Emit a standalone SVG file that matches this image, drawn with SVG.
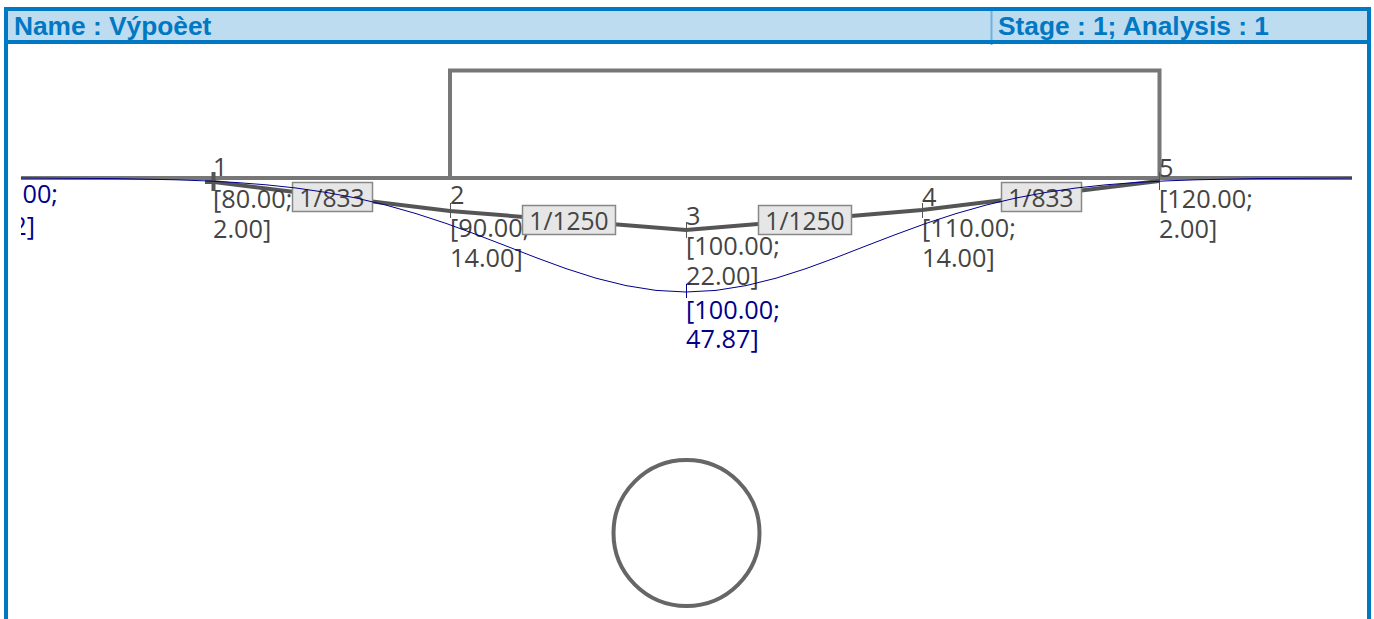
<svg xmlns="http://www.w3.org/2000/svg" width="1374" height="619" viewBox="0 0 1374 619">
<style>
.h{font:bold 26.300px "Liberation Sans",Arial,sans-serif;fill:#0078c4}
.t{font:25.300px "Open Sans","DejaVu Sans",sans-serif;fill:#444}
.b{font:25.300px "Open Sans","DejaVu Sans",sans-serif;fill:#00008b}
.l{font:24.600px "Open Sans","DejaVu Sans",sans-serif;fill:#444;text-anchor:middle}
.g{fill:none;stroke:#777;stroke-width:4}
.box{fill:#e6e6e6;stroke:#888;stroke-width:1.5}
.tick{stroke:#555;stroke-width:1;fill:none}
</style>
<defs><clipPath id="c"><rect x="21" y="44" width="1331" height="575"/></clipPath></defs>
<rect width="1374" height="619" fill="#fff"/>
<g id="header">
<rect x="6" y="9" width="1363" height="33" fill="#bddcf0"/>
<path d="M991.5 9V45" stroke="#6fb2de" stroke-width="2" fill="none"/>
<path d="M6 619V9H1369V619M6 42H1369" fill="none" stroke="#0078c4" stroke-width="4"/>
<text class="h" x="14" y="35">Name : Výpoèet</text>
<text class="h" x="998" y="35">Stage : 1; Analysis : 1</text>
</g>
<g id="structure">
<path class="g" d="M21 178H1352M450 178V70.500H1159.500V178"/>
<circle cx="686.500" cy="533" r="73" fill="none" stroke="#666" stroke-width="4"/>
</g>
<g id="connectors">
<path d="M205 182L214 182L450 211L686 230L922 210L1159 181" fill="none" stroke="#555" stroke-width="4"/>
<path d="M213.500 172V191" stroke="#555" stroke-width="4"/>
<path class="tick" d="M450.500 203V218M686.500 222V238M922.500 203V218M1159.500 172V190"/>
</g>
<g id="node-1"><text class="t" x="213" y="176">1<tspan x="213" y="208">[80.00;</tspan><tspan x="213" y="238">2.00]</tspan></text></g>
<g id="node-2"><text class="t" x="450" y="204">2<tspan x="450" y="237">[90.00;</tspan><tspan x="450" y="267">14.00]</tspan></text></g>
<g id="node-3"><text class="t" x="686" y="225">3<tspan x="686" y="255">[100.00;</tspan><tspan x="686" y="285">22.00]</tspan></text></g>
<g id="node-4"><text class="t" x="922" y="206">4<tspan x="922" y="237">[110.00;</tspan><tspan x="922" y="267">14.00]</tspan></text></g>
<g id="node-5"><text class="t" x="1159" y="177">5<tspan x="1159" y="208">[120.00;</tspan><tspan x="1159" y="238">2.00]</tspan></text></g>
<g id="label-1"><rect class="box" x="292.500" y="182.500" width="80" height="29"/><text class="l" x="332" y="207">1/833</text></g>
<g id="label-2"><rect class="box" x="522.500" y="205.500" width="93" height="29"/><text class="l" x="569" y="230">1/1250</text></g>
<g id="label-3"><rect class="box" x="758.500" y="205.500" width="93" height="29"/><text class="l" x="805" y="230">1/1250</text></g>
<g id="label-4"><rect class="box" x="1001.500" y="182.500" width="80" height="29"/><text class="l" x="1041" y="207">1/833</text></g>
<g id="deflection">
<path d="M21 178L116 178.600L176 179.800L206 180.900L236 182.500L266 184.800L296 188L326 192.400L356 198L386 205.100L416 213.600L446 223.400L476 234.400L506 245.900L536 257.600L566 268.600L596 278.200L626 285.600L656 290.400L686 292L716 290.400L746 285.600L776 278.200L806 268.600L836 257.600L866 245.900L896 234.400L926 223.400L956 213.600L986 205.100L1016 198L1046 192.400L1076 188L1106 184.800L1136 182.500L1166 180.900L1196 179.800L1256 178.600L1352 178" fill="none" stroke="#00008b" stroke-width="1"/>
<path d="M686.500 284V298M686.500 284H690" stroke="#00008b" fill="none"/>
</g>
<g id="result-3"><text class="b" x="686" y="319">[100.00;<tspan x="686" y="348">47.87]</tspan></text></g>
<g id="result-left" clip-path="url(#c)"><text class="b" x="58" y="203" text-anchor="end">00;</text><text class="b" x="35" y="235" text-anchor="end">2]</text></g>
</svg>
